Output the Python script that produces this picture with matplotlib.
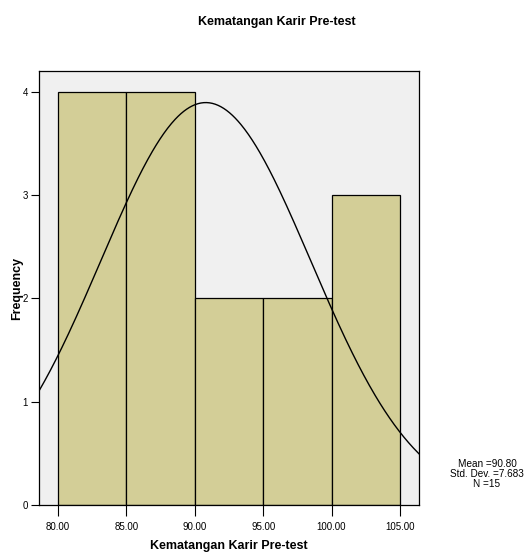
import numpy as np
import matplotlib
matplotlib.use("Agg")
import matplotlib.pyplot as plt

plt.rcParams['font.family'] = ['Liberation Sans', 'DejaVu Sans']

bin_edges = [80, 85, 90, 95, 100, 105]
counts = [4, 4, 2, 2, 3]
mean = 90.80
std = 7.683
n = 15
xticks = [80, 85, 90, 95, 100, 105]
yticks = [0, 1, 2, 3, 4]

fig = plt.figure(figsize=(5.25, 5.54), dpi=100)
ax = fig.add_axes([39/525, 49/554, 380/525, 434/554])
ax.set_facecolor('#F0F0F0')

width = bin_edges[1] - bin_edges[0]
ax.bar(bin_edges[:-1], counts, width=width, align='edge', color='#D3CE97',
       edgecolor='black', linewidth=0.9, zorder=2)

xlim = (78.6, 106.4)
xs = np.linspace(xlim[0], xlim[1], 400)
ys = n * width / (std * np.sqrt(2 * np.pi)) * np.exp(-0.5 * ((xs - mean) / std) ** 2)
ax.plot(xs, ys, color='black', linewidth=1.0, zorder=3)

ax.set_xlim(*xlim)
ax.set_ylim(0, 4.2)
ax.set_xticks(xticks)
ax.set_xticklabels([f"{v:.2f}" for v in xticks])
ax.set_yticks(yticks)
ax.tick_params(axis='x', labelsize=7, length=8, width=0.8, pad=4, direction='out', colors='black')
ax.tick_params(axis='y', labelsize=7, length=6, width=0.8, pad=2, direction='out', colors='black')
for s in ax.spines.values():
    s.set_linewidth(0.9)

ax.set_xlabel('Kematangan Karir Pre-test', fontsize=9, fontweight='bold')
ax.xaxis.set_label_coords((229 - 39) / 380, -(546 - 505) / 434)
ax.set_ylabel('Frequency', fontsize=9, fontweight='bold')
ax.yaxis.set_label_coords(-(39 - 17) / 380, (505 - 288) / 434)
ax.xaxis.label.set_va('center')
ax.yaxis.label.set_va('center')

fig.text(277/525, 1 - 22/554, 'Kematangan Karir Pre-test', ha='center', va='center',
         fontsize=9, fontweight='bold')
fig.text(487/525, 1 - 474/554, f'Mean ={mean:.2f}\nStd. Dev. ={std:.3f}\nN ={n}',
         ha='center', va='center', fontsize=7.2, linespacing=0.95)

fig.savefig('out.png', dpi=100)
